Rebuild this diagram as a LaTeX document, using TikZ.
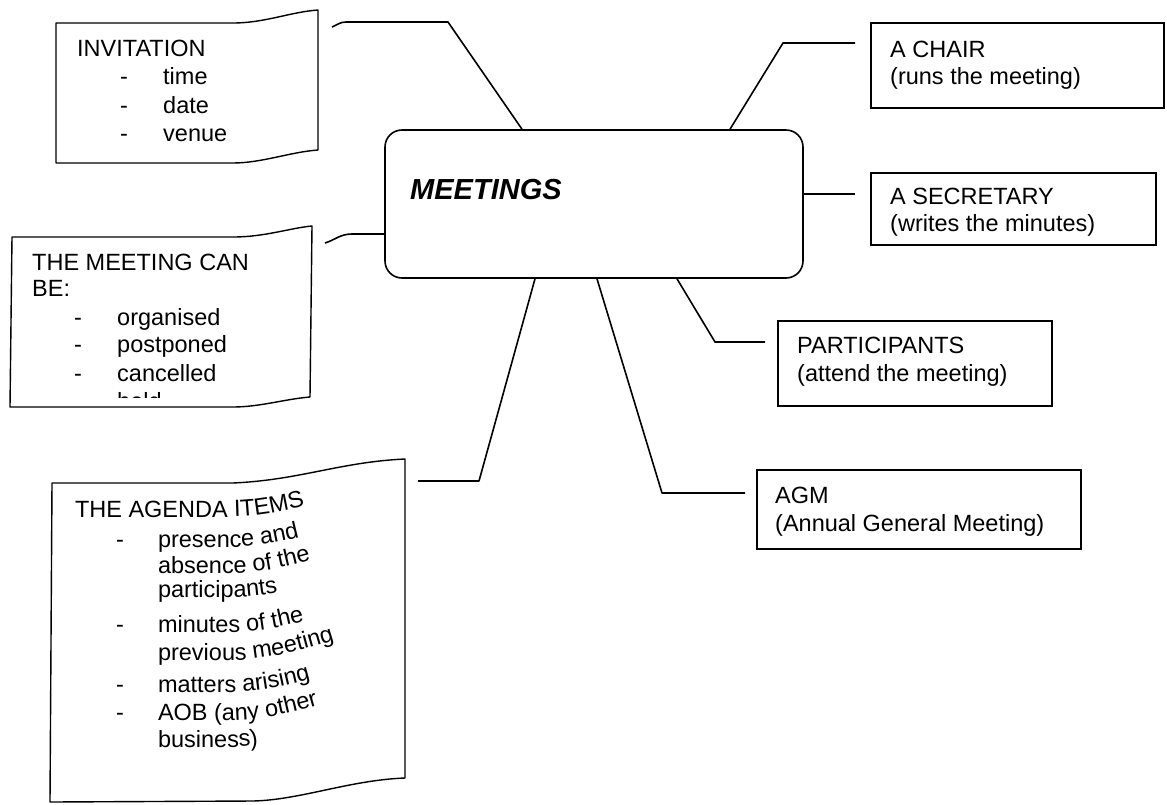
\documentclass[tikz,border=0pt]{standalone}
\usepackage{fontspec}
\setmainfont{Liberation Sans}
\usetikzlibrary{decorations.text}
\newcommand{\tf}{\fontsize{23.5}{27}\selectfont}
\newcommand{\warpline}[3]{%
  \path[decorate, decoration={text along path, text={|\tf|#3}}]
    (#1,-#2) -- (230,-#2) .. controls (265,-#2) and (300,{-#2+8}) .. (360,{-#2+28}) -- (420,{-#2+48});}
\tikzset{
  lbl/.style={anchor=base west, inner sep=0pt, font=\tf},
  rbox/.style={draw, line width=1.2pt, inner sep=0pt},
  wbox/.style={draw, line width=1.4pt, line join=round},
  conn/.style={draw, line width=1.6pt, line join=round},
}
\begin{document}
\begin{tikzpicture}[x=1pt,y=1pt]
\fill[white] (0,0) rectangle (1167,-804);
\useasboundingbox (0,0) rectangle (1167,-804);

% central box
\node[draw, line width=1.6pt, rounded corners=17pt, minimum width=418pt, minimum height=148pt, inner sep=0pt] (m) at (594,-204) {};
\node[anchor=base west, inner sep=0pt, font=\fontsize{29}{33}\selectfont\bfseries\itshape] (mt) at (410,-199) {MEETINGS};

% right boxes
\node[rbox, minimum width=293pt, minimum height=85pt] (chair) at (1017.5,-65.5) {};
\node[lbl] (chair1) at (890,-57) {A CHAIR};
\node[lbl] (chair2) at (890,-84) {(runs the meeting)};

\node[rbox, minimum width=285pt, minimum height=72pt] (sec) at (1013.5,-209) {};
\node[lbl] (sec1) at (890,-204) {A SECRETARY};
\node[lbl] (sec2) at (890,-231) {(writes the minutes)};

\node[rbox, minimum width=274pt, minimum height=85pt] (part) at (915,-363.5) {};
\node[lbl] (part1) at (797,-353) {PARTICIPANTS};
\node[lbl] (part2) at (797,-381) {(attend the meeting)};

\node[rbox, minimum width=324pt, minimum height=79pt] (agm) at (919,-509.5) {};
\node[lbl] (agm1) at (775,-503) {AGM};
\node[lbl] (agm2) at (775,-531) {(Annual General Meeting)};

% invitation box
\draw[wbox] (56,-23) -- (233,-23) .. controls (265,-23) and (290,-12) .. (318,-10)
  -- (318,-150) .. controls (290,-152) and (262,-163) .. (233,-163) -- (56,-163) -- cycle;
\node[lbl] (inv) at (77,-56) {INVITATION};
\node[lbl] at (120,-84.5) {-};
\node[lbl] at (120,-113) {-};
\node[lbl] at (120,-141) {-};
\node[lbl] (inv1) at (163,-84.5) {time};
\node[lbl] (inv2) at (163,-113) {date};
\node[lbl] (inv3) at (163,-141) {venue};

% meeting can be box
\draw[wbox] (12,-237) -- (233,-237) .. controls (265,-237) and (290,-228) .. (312,-226)
  -- (310,-397) .. controls (285,-399) and (260,-407) .. (233,-407) -- (10,-407) -- cycle;
\node[lbl] (can) at (32,-270) {THE MEETING CAN};
\node[lbl] (can0) at (32,-296.5) {BE:};
\node[lbl] at (74,-325) {-};
\node[lbl] at (74,-352.5) {-};
\node[lbl] at (74,-381.5) {-};
\node[lbl] (can1) at (117,-325) {organised};
\node[lbl] (can2) at (117,-352.5) {postponed};
\node[lbl] (can3) at (117,-381.5) {cancelled};
\begin{scope}
  \clip (100,-385) rectangle (220,-397);
  \node[lbl] (can4) at (117,-409) {held};
\end{scope}

% agenda box
\draw[wbox] (52,-483) -- (233,-483) .. controls (300,-480) and (340,-462) .. (405,-459)
  -- (405,-778) .. controls (350,-780) and (300,-800) .. (253,-801) -- (50,-802) -- cycle;
\warpline{75}{517}{THE AGENDA ITEMS}
\warpline{158}{547}{presence and}
\warpline{158}{573}{absence of the}
\warpline{158}{597}{participants}
\warpline{158}{632}{minutes of the}
\warpline{158}{660}{previous meeting}
\warpline{158}{692}{matters arising}
\warpline{158}{720}{AOB (any other}
\warpline{158}{747}{business)}
\node[lbl] at (116,-547) {-};
\node[lbl] at (116,-632) {-};
\node[lbl] at (116,-692) {-};
\node[lbl] at (116,-720) {-};

% connectors
\coordinate (ja) at (522,0);
\coordinate (i1) at (448,-22);
\coordinate (i0) at (332,-27);
\draw[conn] (m.north -| ja) -- (i1) -- (346,-22) .. controls (340,-22) and (337,-25) .. (i0);

\coordinate (jc) at (730,0);
\coordinate (c1) at (783,-43);
\coordinate (c0) at (855,-43);
\draw[conn] (m.north -| jc) -- (c1) -- (c0);

\coordinate (js) at (0,-194);
\coordinate (s0) at (855,-194);
\draw[conn] (m.east |- js) -- (s0);

\coordinate (jp) at (677,0);
\coordinate (p1) at (715,-342);
\coordinate (p0) at (765,-342);
\draw[conn] (m.south -| jp) -- (p1) -- (p0);

\coordinate (jg) at (597,0);
\coordinate (g1) at (662,-493);
\coordinate (g0) at (745,-493);
\draw[conn] (m.south -| jg) -- (g1) -- (g0);

\coordinate (jd) at (535,0);
\coordinate (d1) at (479,-481);
\coordinate (d0) at (418,-481);
\draw[conn] (m.south -| jd) -- (d1) -- (d0);

\coordinate (jb) at (0,-234);
\coordinate (b0) at (325,-243);
\draw[conn] (m.west |- jb) -- (352,-234) .. controls (340,-234) and (335,-240) .. (b0);
\end{tikzpicture}
\end{document}
